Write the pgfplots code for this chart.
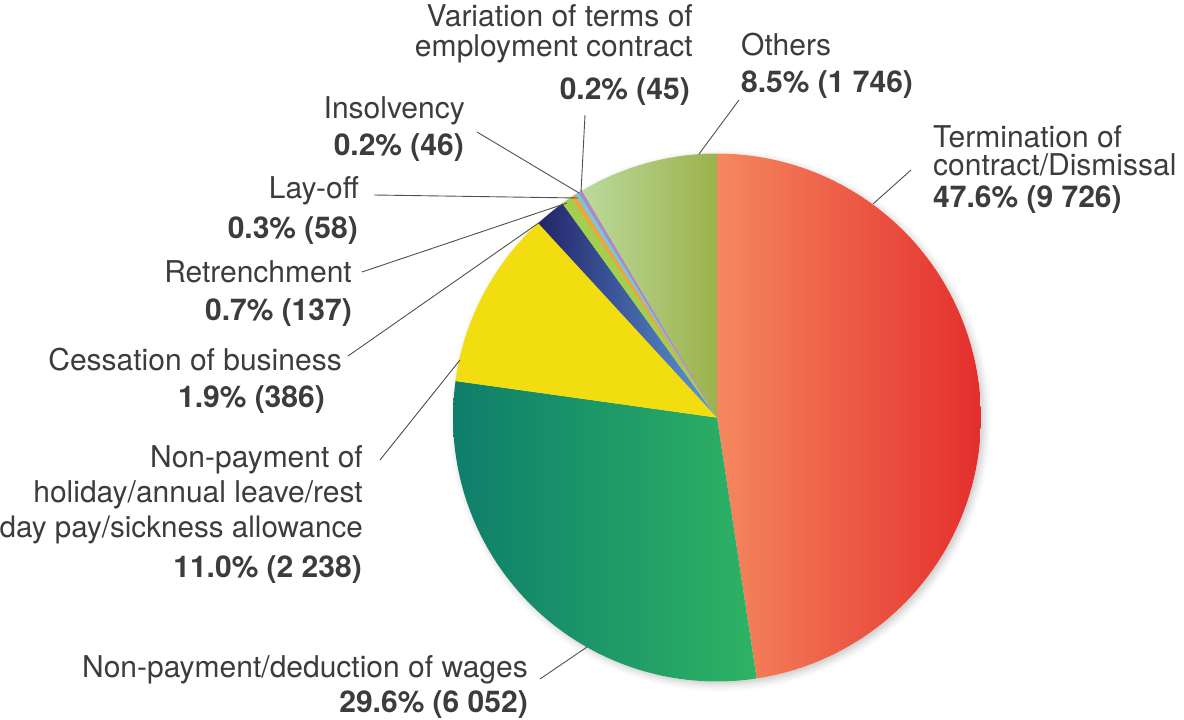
\documentclass[border=0pt]{standalone}
\usepackage{pgfplots}
\pgfplotsset{compat=1.18}
\usepackage{pgfplotstable}
\usetikzlibrary{shadows.blur}
\usepackage{fontspec}
\setmainfont{TeX Gyre Heros}

\definecolor{txt}{HTML}{3C3C3C}
\definecolor{termL}{HTML}{F5885F}
\definecolor{termR}{HTML}{E42E2C}
\definecolor{wageL}{HTML}{0E7E6B}
\definecolor{wageR}{HTML}{2EB364}
\definecolor{hol}{HTML}{F2DD11}
\definecolor{cessL}{HTML}{232469}
\definecolor{cessR}{HTML}{5D9BDB}
\definecolor{retr}{HTML}{A5CD4E}
\definecolor{lay}{HTML}{F1A23B}
\definecolor{ins}{HTML}{6FCAE5}
\definecolor{var}{HTML}{B285C3}
\definecolor{othL}{HTML}{BBDA9C}
\definecolor{othR}{HTML}{9CB24C}

% counts per category (clockwise from 12 o'clock)
\pgfplotstableread{
slice count
1 9726
2 6052
3 2238
4 386
5 137
6 58
7 46
8 45
9 1746
}\piedata

\newcommand\pieslice[3]{%
  \edef\temp{\noexpand\addplot[#3, domain=\csname pa#2\endcsname:\csname pa#1\endcsname, samples=120]}%
  \temp ({717+264*cos(x)},{417.5-264*sin(x)}) -- (axis cs:717,417.5) -- cycle;}

\begin{document}
\begin{tikzpicture}[lab/.style={inner sep=0pt, text=txt, font=\fontsize{30}{32}\selectfont},
  lead/.style={draw=txt!90, line width=0.9pt}]
\def\pietotal{0}
\pgfplotsforeachungrouped \i in {0,...,8}{%
  \pgfplotstablegetelem{\i}{count}\of{\piedata}%
  \pgfmathsetmacro\pietotal{\pietotal+\pgfplotsretval/100}%
}
\def\cum{0}
\expandafter\xdef\csname pa0\endcsname{90}
\pgfplotsforeachungrouped \i in {0,...,8}{%
  \pgfplotstablegetelem{\i}{count}\of{\piedata}%
  \pgfmathsetmacro\cum{\cum+\pgfplotsretval/100}%
  \pgfmathsetmacro\tmpang{90-360*(\cum/\pietotal)}%
  \pgfmathtruncatemacro\j{\i+1}%
  \expandafter\xdef\csname pa\j\endcsname{\tmpang}%
}
\begin{axis}[width=1184pt, height=720pt, scale only axis,
  xmin=0, xmax=1184, ymin=0, ymax=720, y dir=reverse,
  axis lines=none, clip=false]
% soft shadow under the pie
\addplot[draw=none, fill=white, domain=0:360, samples=181,
  blur shadow={shadow xshift=3pt, shadow yshift=-3pt, shadow blur radius=7pt, shadow opacity=22}]
  ({717+264*cos(x)},{417.5-264*sin(x)}) -- cycle;
\pieslice{0}{1}{draw=none, left color=termL, right color=termR}
\pieslice{1}{2}{draw=none, left color=wageL, right color=wageR}
\pieslice{2}{3}{draw=hol, line width=0.3pt, fill=hol}
\pieslice{3}{4}{draw=none, left color=cessL, right color=cessR}
\pieslice{4}{5}{draw=retr, line width=0.3pt, fill=retr}
\pieslice{5}{6}{draw=lay, line width=0.3pt, fill=lay}
\pieslice{6}{7}{draw=ins, line width=0.3pt, fill=ins}
\pieslice{7}{8}{draw=var, line width=0.3pt, fill=var}
\pieslice{8}{9}{draw=none, left color=othL, right color=othR}

% leader lines
\draw[lead] (axis cs:699,154) -- (axis cs:739,100);
\draw[lead] (axis cs:873,204) -- (axis cs:911,170);
\draw[lead] (axis cs:581,192) -- (axis cs:585,115);
\draw[lead] (axis cs:579,193) -- (axis cs:477,132);
\draw[lead] (axis cs:578,198) -- (axis cs:374,195);
\draw[lead] (axis cs:567,203) -- (axis cs:362,272);
\draw[lead] (axis cs:540,222) -- (axis cs:348,356);
\draw[lead] (axis cs:460,360) -- (axis cs:380,460);
\draw[lead] (axis cs:587,647) -- (axis cs:540,679);

% labels
\node[lab, anchor=base west] at (axis cs:741,55) {Others};
\node[lab, anchor=base west] at (axis cs:741,92) {\bfseries 8.5\% (1 746)};
\node[lab, anchor=base west] at (axis cs:933,147) {Termination of};
\node[lab, anchor=base west] at (axis cs:933,175) {contract/Dismissal};
\node[lab, anchor=base west] at (axis cs:933,207) {\bfseries 47.6\% (9 726)};

\node[lab, anchor=base east] at (axis cs:693,27) {Variation of terms of};
\node[lab, anchor=base east] at (axis cs:693,56) {employment contract};
\node[lab, anchor=base east] at (axis cs:690,99) {\bfseries 0.2\% (45)};
\node[lab, anchor=base east] at (axis cs:465,118) {Insolvency};
\node[lab, anchor=base east] at (axis cs:464,155) {\bfseries 0.2\% (46)};
\node[lab, anchor=base east] at (axis cs:359,198) {Lay-off};
\node[lab, anchor=base east] at (axis cs:358,238) {\bfseries 0.3\% (58)};
\node[lab, anchor=base east] at (axis cs:352,282) {Retrenchment};
\node[lab, anchor=base east] at (axis cs:352,320) {\bfseries 0.7\% (137)};
\node[lab, anchor=base east] at (axis cs:342,370) {Cessation of business};
\node[lab, anchor=base east] at (axis cs:325,407) {\bfseries 1.9\% (386)};
\node[lab, anchor=base east] at (axis cs:363,467) {Non-payment of};
\node[lab, anchor=base east] at (axis cs:363,502) {holiday/annual leave/rest};
\node[lab, anchor=base east, font=\fontsize{29.6}{32}\selectfont] at (axis cs:363,537) {day pay/sickness allowance};
\node[lab, anchor=base east] at (axis cs:362,577) {\bfseries 11.0\% (2 238)};
\node[lab, anchor=base east] at (axis cs:528,677) {Non-payment/deduction of wages};
\node[lab, anchor=base east] at (axis cs:528,712) {\bfseries 29.6\% (6 052)};
\end{axis}
\pgfresetboundingbox
\path (0,0) rectangle (1184pt,720pt);
\end{tikzpicture}
\end{document}
